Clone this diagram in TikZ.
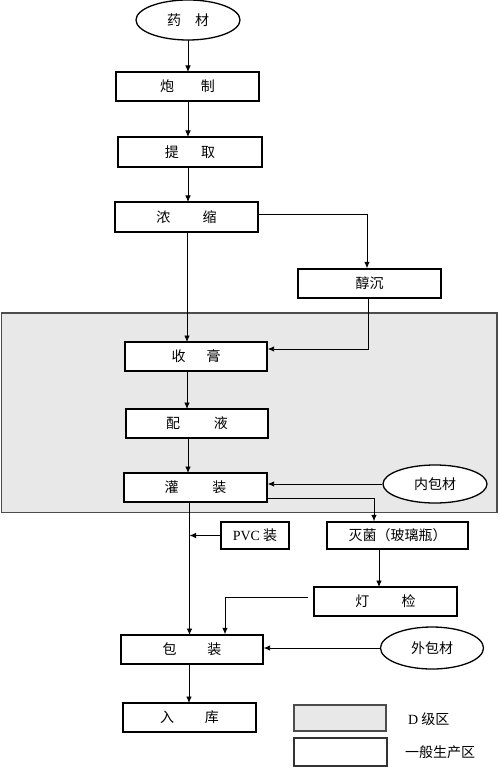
\documentclass[tikz,border=0pt]{standalone}
\usepackage{fontspec}
\setmainfont{Noto Sans CJK SC}
\newfontfamily\latf{Liberation Serif}
\usetikzlibrary{arrows.meta,shapes.geometric}
\begin{document}
\begin{tikzpicture}[x=1pt,y=-1pt,
  font=\fontsize{14}{16}\selectfont,
  stepbox/.style={draw,line width=1.3pt,fill=white,inner sep=0pt},
  oval/.style={draw,ellipse,line width=1.3pt,fill=white,inner sep=0pt},
  conn/.style={line width=0.9pt},
  arr/.style={conn,-{Latex[length=6.5pt,width=5.5pt]}},
]
\useasboundingbox (0,0) rectangle (500,767);
% D-grade region
\draw[line width=1.3pt,draw=black!70,fill=black!9] (1.5,313) rectangle (497,512.5);

% nodes
\node[oval,minimum width=104pt,minimum height=40pt] (yaocai) at (188,20) {药\hspace{1em}材};
\node[stepbox,minimum width=143pt,minimum height=29pt] (paozhi) at (187.5,86.5) {炮\hspace{1.9em}制};
\node[stepbox,minimum width=144pt,minimum height=30pt] (tiqu) at (190,152) {提\hspace{1.6em}取};
\node[stepbox,minimum width=143pt,minimum height=30pt] (nongsuo) at (186.5,217) {浓\hspace{2.3em}缩};
\node[stepbox,minimum width=143pt,minimum height=29pt] (chunchen) at (369.5,283.5) {醇沉};
\node[stepbox,minimum width=142pt,minimum height=29pt] (shougao) at (196,356.5) {收\hspace{1.5em}膏};
\node[stepbox,minimum width=142pt,minimum height=29pt] (peiye) at (197,423.5) {配\hspace{2.4em}液};
\node[stepbox,minimum width=143pt,minimum height=29pt] (guanzhuang) at (195.5,487.5) {灌\hspace{2.4em}装};
\node[oval,minimum width=104pt,minimum height=38pt] (neibaocai) at (435,484) {内包材};
\node[stepbox,minimum width=68pt,minimum height=27pt] (pvc) at (255,535.5) {{\latf PVC} 装};
\node[stepbox,minimum width=141pt,minimum height=27pt] (miejun) at (397.5,535.5) {灭菌（玻璃瓶）};
\node[stepbox,minimum width=143pt,minimum height=29pt] (dengjian) at (385.5,601.5) {灯\hspace{2.3em}检};
\node[stepbox,minimum width=142pt,minimum height=29pt] (baozhuang) at (192,649.5) {包\hspace{2.2em}装};
\node[oval,minimum width=103pt,minimum height=42pt] (waibaocai) at (432,648) {外包材};
\node[stepbox,minimum width=133pt,minimum height=29pt] (ruku) at (189.5,717.5) {入\hspace{2.2em}库};

% legend
\node[draw,line width=1.3pt,draw=black!70,fill=black!9,minimum width=92pt,minimum height=26pt,inner sep=0pt] (legd) at (340,718) {};
\node[draw,line width=1.3pt,draw=black!80,fill=white,minimum width=93pt,minimum height=28pt,inner sep=0pt] (legg) at (340.5,752) {};
\node[anchor=west,inner sep=0pt] (legdt) at (408,719) {{\latf D} 级区};
\node[anchor=west,inner sep=0pt] (leggt) at (405,752) {一般生产区};

% connectors
\coordinate (c1) at (367,214);
\coordinate (c2) at (368,349);
\coordinate (c3) at (374,498);
\coordinate (c4) at (225,597);
\coordinate (c5) at (308,597);

\draw[arr] (188,40) -- (188,72);
\draw[arr] (188,101) -- (188,137);
\draw[arr] (188,167) -- (188,202);
\draw[arr] (nongsuo.east |- c1) -- (c1) -- (c1 |- chunchen.north);
\draw[arr] (187,232) -- (187,342);
\draw[arr] (c2 |- chunchen.south) -- (c2) -- (c2 -| shougao.east);
\draw[arr] (187,371) -- (187,409);
\draw[arr] (188,438) -- (188,473);
\draw[arr] (neibaocai.west) -- (neibaocai.west -| guanzhuang.east);
\draw[arr] (c3 -| guanzhuang.east) -- (c3) -- (c3 |- miejun.north);
\draw[arr] (189.5,502) -- (189.5,635);
\draw[arr] (pvc.west) -- (189.5,535.5);
\draw[arr] (379,549) -- (379,587);
\draw[arr] (c5) -- (c4) -- (c4 |- baozhuang.north);
\draw[arr] (waibaocai.west) -- (waibaocai.west -| baozhuang.east);
\draw[arr] (189,664) -- (189,703);
\end{tikzpicture}
\end{document}
